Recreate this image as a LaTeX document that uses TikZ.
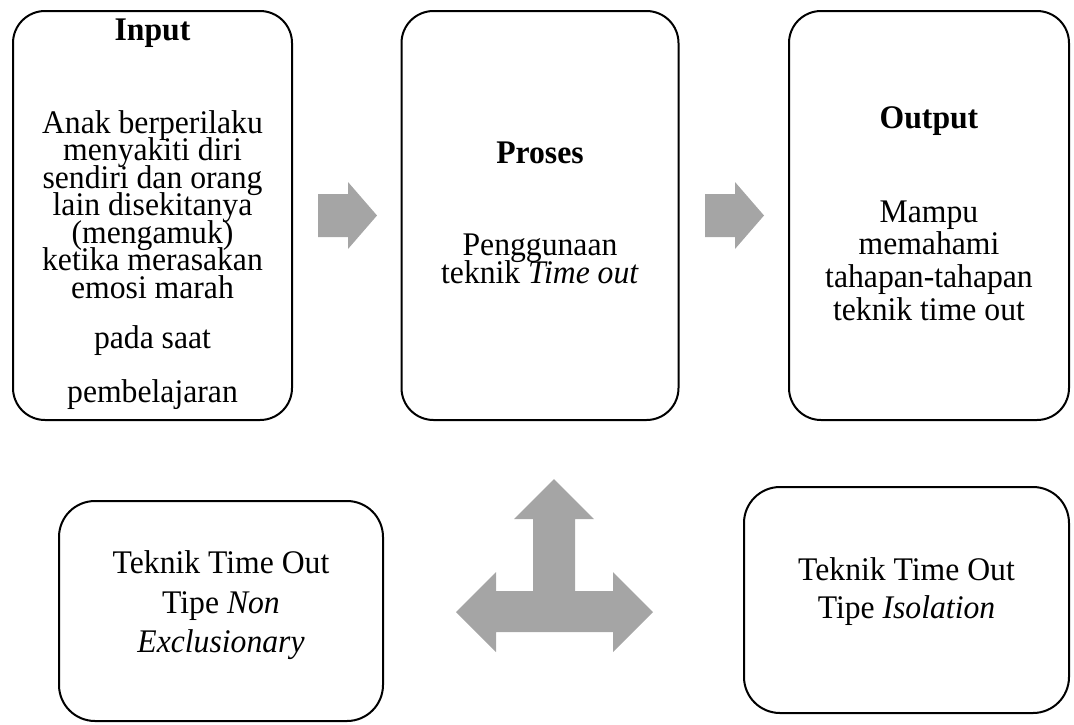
\documentclass[tikz,border=0pt]{standalone}
\usepackage{fontspec}
\setmainfont[FakeStretch=0.96]{Liberation Serif}
\definecolor{arrowgray}{HTML}{A5A5A5}
\begin{document}
\begin{tikzpicture}[x=1pt,y=-1pt,
  box/.style={draw=black, line width=2pt, rounded corners=32pt, inner sep=0pt},
  sbox/.style={box, rounded corners=36pt},
  blk/.style={fill=arrowgray, draw=none},
  txt/.style={anchor=base, inner sep=0pt, text height=20pt, text depth=5pt, font=\fontsize{33}{38}\selectfont},
  hd/.style={txt, font=\fontsize{33}{38}\selectfont\bfseries}]
\useasboundingbox (0,0) rectangle (1074,724);
% boxes
\node[box, minimum width=279pt, minimum height=409pt] (inbox) at (152.5,215.5) {};
\node[box, minimum width=277pt, minimum height=409pt] (prbox) at (540,215.5) {};
\node[box, minimum width=280pt, minimum height=409pt] (outbox) at (929,215.5) {};
\node[sbox, minimum width=324pt, minimum height=220pt] (nebox) at (221,611) {};
\node[sbox, minimum width=325pt, minimum height=226pt] (isbox) at (906.5,600) {};
% Input text
\node[hd] (t1) at (152.5,40) {Input};
\node[txt] (t2) at (152.5,133) {Anak berperilaku};
\node[txt] (t3) at (152.5,160.5) {menyakiti diri};
\node[txt] (t4) at (152.5,188) {sendiri dan orang};
\node[txt] (t5) at (152.5,215.5) {lain disekitanya};
\node[txt] (t6) at (152.5,243) {(mengamuk)};
\node[txt] (t7) at (152.5,270.5) {ketika merasakan};
\node[txt] (t8) at (152.5,298) {emosi marah};
\node[txt] (t9) at (152.5,348) {pada saat};
\node[txt] (t10) at (152.5,402) {pembelajaran};
% Proses text
\node[hd] (p1) at (540,163) {Proses};
\node[txt] (p2) at (540,255) {Penggunaan};
\node[txt] (p3) at (540,283) {teknik \textit{Time out}};
% Output text
\node[hd] (o1) at (929,128) {Output};
\node[txt] (o2) at (929,222) {Mampu};
\node[txt] (o3) at (929,254.5) {memahami};
\node[txt] (o4) at (929,287) {tahapan-tahapan};
\node[txt] (o5) at (929,320) {teknik time out};
% bottom texts
\node[txt] (n1) at (221,573) {Teknik Time Out};
\node[txt] (n2) at (221,613) {Tipe \textit{Non}};
\node[txt] (n3) at (221,652) {\textit{Exclusionary}};
\node[txt] (i1) at (906.5,580) {Teknik Time Out};
\node[txt] (i2) at (906.5,618) {Tipe \textit{Isolation}};
% block arrows
\fill[blk] (318,194) -- (348,194) -- (348,182) -- (377,215.5) -- (348,249) -- (348,237) -- (318,237) -- cycle;
\fill[blk] (705,194) -- (735,194) -- (735,182) -- (764,215.5) -- (735,249) -- (735,237) -- (705,237) -- cycle;
\fill[blk] (554,479) -- (594,519) -- (575,519) -- (575,591) -- (613,591) -- (613,572) -- (653,612)
  -- (613,652) -- (613,632) -- (496,632) -- (496,652) -- (456,612) -- (496,572) -- (496,591)
  -- (533,591) -- (533,519) -- (514,519) -- cycle;
\end{tikzpicture}
\end{document}
